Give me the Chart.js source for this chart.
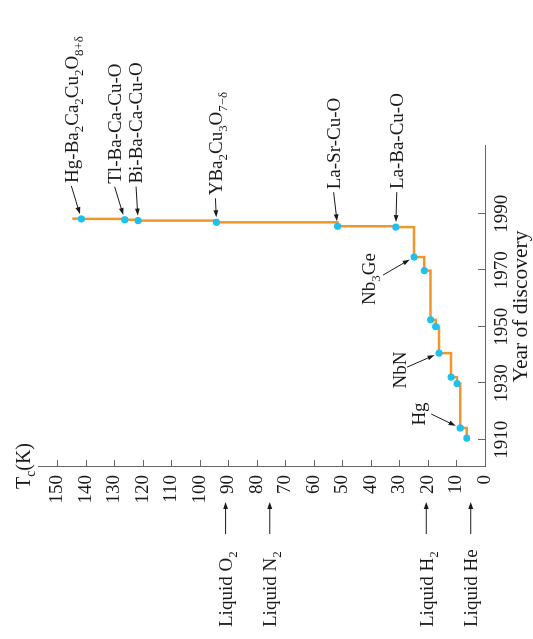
<!DOCTYPE html>
<html>
<head>
<meta charset="utf-8">
<script src="https://cdn.jsdelivr.net/npm/chart.js@4.4.0/dist/chart.umd.min.js"></script>
<style>
  html, body { margin: 0; padding: 0; background: #fff; overflow: hidden; }
  /* the chart is drawn upright and turned a quarter turn, like the figure */
  #wrap { position: absolute; left: 0; top: 0; width: 639px; height: 533px;
          transform-origin: 0 0; transform: translate(0, 639px) rotate(-90deg); }
</style>
</head>
<body>
<div id="wrap"><canvas id="tcChart" width="639" height="533"></canvas></div>
<script>
// record Tc of superconductors by year of discovery
const years    = [1910.6, 1914.2, 1929.9, 1932.2, 1940.7, 1950.1, 1952.5, 1969.9, 1974.7, 1985.3, 1985.6, 1987.0, 1987.6, 1987.9, 1988.2, 1988.3];
const tcValues = [6.4, 8.7, 9.8, 11.9, 16.1, 17.3, 19.1, 21.3, 24.9, 31.3, 51.7, 94.2, 121.7, 126.4, 141.6, 144.8];

const materialNames = ['Hg', 'NbN', 'Nb_3Ge', 'La-Ba-Cu-O', 'La-Sr-Cu-O', 'YBa_2Cu_3O_{7−δ}', 'Bi-Ba-Ca-Cu-O', 'Tl-Ba-Ca-Cu-O', 'Hg-Ba_2Ca_2Cu_2O_{8+δ}'];
const materialIndex = [1, 4, 8, 9, 10, 11, 12, 13, 14];

const liquidNames = ['Liquid O_2', 'Liquid N_2', 'Liquid H_2', 'Liquid He'];
const liquidTc    = [91, 75.5, 20.6, 5.0];

const yearTicks = [1910, 1930, 1950, 1970, 1990];
const tcTicks   = [0, 10, 20, 30, 40, 50, 60, 70, 80, 90, 100, 110, 120, 130, 140, 150];

// where each material label sits relative to its point (upright chart pixels)
const labelLayout = [
  { align: 'center', tx: 14,  ty: -41,   ax: 14,  ay: -29 },
  { align: 'center', tx: -17, ty: -39.5, ax: -14, ay: -32 },
  { align: 'center', tx: -22, ty: -45.5, ax: -18, ay: -31 },
  { align: 'left',   tx: 38,  ty: 1,     ax: 35,  ay: 1 },
  { align: 'left',   tx: 37,  ty: -4,    ax: 34,  ay: -4 },
  { align: 'left',   tx: 27,  ty: -1,    ax: 24,  ay: -1 },
  { align: 'left',   tx: 37,  ty: -2,    ax: 34,  ay: -2 },
  { align: 'left',   tx: 36,  ty: -10,   ax: 33,  ay: -10 },
  { align: 'left',   tx: 36,  ty: -10,   ax: 33,  ay: -10 }
];

const FONT = '"Liberation Serif", "Times New Roman", serif';
const FS = 19;

function parseRich(str) {
  const parts = [];
  let buf = '', i = 0;
  while (i < str.length) {
    if (str[i] === '_') {
      if (buf) { parts.push({ t: buf, sub: false }); buf = ''; }
      if (str[i + 1] === '{') {
        const j = str.indexOf('}', i);
        parts.push({ t: str.slice(i + 2, j), sub: true });
        i = j + 1;
      } else {
        parts.push({ t: str[i + 1], sub: true });
        i += 2;
      }
    } else {
      buf += str[i]; i++;
    }
  }
  if (buf) parts.push({ t: buf, sub: false });
  return parts;
}

function richWidth(ctx, str, size) {
  let w = 0;
  parseRich(str).forEach(p => {
    ctx.font = (p.sub ? size * 0.68 : size) + 'px ' + FONT;
    w += ctx.measureText(p.t).width;
  });
  return w;
}

// x = left edge, y = middle of the main letters
function drawRich(ctx, str, x, y, size) {
  const base = y + size * 0.33;
  let cx = x;
  ctx.textBaseline = 'alphabetic';
  ctx.textAlign = 'left';
  parseRich(str).forEach(p => {
    ctx.font = (p.sub ? size * 0.68 : size) + 'px ' + FONT;
    ctx.fillText(p.t, cx, p.sub ? base + size * 0.28 : base);
    cx += ctx.measureText(p.t).width;
  });
}

function arrow(ctx, x1, y1, x2, y2) {
  const ang = Math.atan2(y2 - y1, x2 - x1);
  const hl = 7, hw = 2.4;
  ctx.beginPath();
  ctx.moveTo(x1, y1);
  ctx.lineTo(x2 - Math.cos(ang) * hl * 0.8, y2 - Math.sin(ang) * hl * 0.8);
  ctx.stroke();
  ctx.beginPath();
  ctx.moveTo(x2, y2);
  ctx.lineTo(x2 - Math.cos(ang) * hl - Math.sin(ang) * hw, y2 - Math.sin(ang) * hl + Math.cos(ang) * hw);
  ctx.lineTo(x2 - Math.cos(ang) * hl + Math.sin(ang) * hw, y2 - Math.sin(ang) * hl - Math.cos(ang) * hw);
  ctx.closePath();
  ctx.fill();
}

const annotations = {
  id: 'annotations',
  beforeDatasetsDraw(chart) {
    const { ctx, chartArea, scales } = chart;
    ctx.save();
    ctx.strokeStyle = '#666';
    ctx.lineWidth = 1;
    // inward tick marks
    yearTicks.forEach(v => {
      const x = Math.round(scales.x.getPixelForValue(v)) + 0.5;
      ctx.beginPath(); ctx.moveTo(x, chartArea.bottom); ctx.lineTo(x, chartArea.bottom - 7); ctx.stroke();
    });
    tcTicks.forEach(v => {
      const y = Math.round(scales.y.getPixelForValue(v)) + 0.5;
      ctx.beginPath(); ctx.moveTo(chartArea.left, y); ctx.lineTo(chartArea.left + 7, y); ctx.stroke();
    });
    ctx.restore();
  },
  afterDraw(chart) {
    const { ctx, chartArea, scales } = chart;
    const meta = chart.getDatasetMeta(0);
    ctx.save();
    ctx.fillStyle = '#1a1a1a';
    ctx.strokeStyle = '#1a1a1a';
    ctx.lineWidth = 1;

    materialNames.forEach((name, k) => {
      const pt = meta.data[materialIndex[k]];
      const L = labelLayout[k];
      const w = richWidth(ctx, name, FS);
      const left = L.align === 'center' ? pt.x + L.tx - w / 2 : pt.x + L.tx;
      drawRich(ctx, name, left, pt.y + L.ty, FS);
      const sx = pt.x + L.ax, sy = pt.y + L.ay;
      const d = Math.hypot(pt.x - sx, pt.y - sy);
      const ex = pt.x - (pt.x - sx) / d * 5, ey = pt.y - (pt.y - sy) / d * 5;
      arrow(ctx, sx, sy, ex, ey);
    });

    liquidNames.forEach((name, k) => {
      const y = scales.y.getPixelForValue(liquidTc[k]);
      drawRich(ctx, name, 12, y, FS);
      arrow(ctx, 105, y, 137, y);
    });

    // axis titles
    drawRich(ctx, 'T_c(K)', 150, 23, 20);
    ctx.font = '21.5px ' + FONT;
    ctx.textAlign = 'center';
    ctx.textBaseline = 'alphabetic';
    ctx.fillText('Year of discovery', (chartArea.left + chartArea.right) / 2, 527);
    ctx.restore();
  }
};

const tickFont = { family: FONT, size: FS };

new Chart(document.getElementById('tcChart'), {
  type: 'line',
  data: {
    datasets: [{
      data: years.map((y, i) => ({ x: y, y: tcValues[i] })),
      stepped: 'before',
      borderColor: '#F0962A',
      borderWidth: 2.5,
      fill: false,
      pointBackgroundColor: '#1EC0EE',
      pointBorderWidth: 0,
      pointRadius: c => (c.dataIndex === years.length - 1 ? 0 : 3.6)
    }]
  },
  options: {
    responsive: false,
    animation: false,
    events: [],
    layout: { padding: { left: 0, right: 146, top: 38, bottom: 0 } },
    plugins: { legend: { display: false }, tooltip: { enabled: false } },
    scales: {
      x: {
        type: 'linear',
        min: 1900.4,
        max: 2014,
        afterBuildTicks: s => { s.ticks = yearTicks.map(v => ({ value: v })); },
        afterFit: s => { s.height = 48; },
        grid: { display: false, drawTicks: false },
        border: { display: true, color: '#666', width: 1 },
        ticks: { padding: 6, color: '#1a1a1a', font: tickFont, maxRotation: 0, autoSkip: false,
                 callback: v => String(v) }
      },
      y: {
        type: 'linear',
        min: 0,
        max: 156.8,
        afterBuildTicks: s => { s.ticks = tcTicks.map(v => ({ value: v })); },
        afterFit: s => { s.width = 172; },
        grid: { display: false, drawTicks: false },
        border: { display: true, color: '#666', width: 1 },
        ticks: { padding: 8, color: '#1a1a1a', font: tickFont, autoSkip: false,
                 callback: v => String(v) }
      }
    }
  },
  plugins: [annotations]
});
</script>
</body>
</html>
